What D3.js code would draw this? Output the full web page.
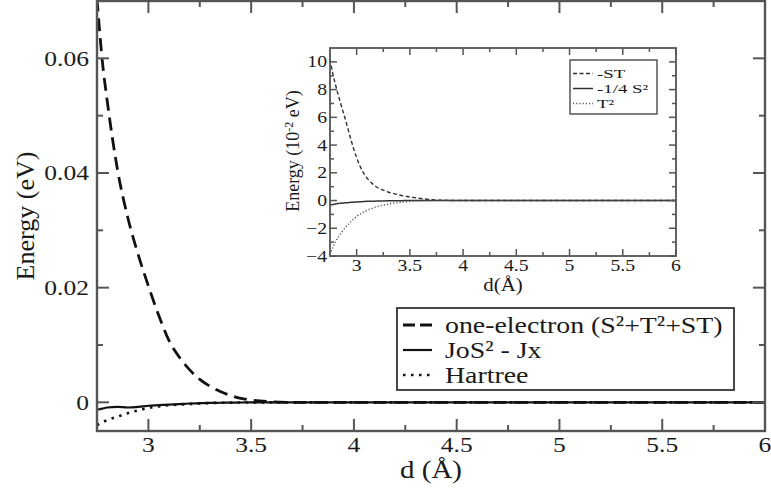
<!DOCTYPE html>
<html>
<head>
<meta charset="utf-8">
<script src="https://cdn.jsdelivr.net/npm/d3@7"></script>
<style>
  body { margin: 0; background: #fff; }
  svg text { font-family: "Liberation Serif", "Times New Roman", "DejaVu Serif", serif; fill: #1a1a1a; }
</style>
</head>
<body>
<div id="wrapper"></div>
<script>
// distances (Å), shared by every series
const dValues = [2.75, 2.775, 2.8, 2.85, 2.9, 2.95, 3.0, 3.05, 3.1, 3.15, 3.2, 3.25, 3.3,
  3.35, 3.4, 3.45, 3.5, 3.6, 3.7, 3.8, 4.0, 4.5, 5.0, 5.5, 6.0];

// main plot (eV)
const oneElectron = [0.0705, 0.0598, 0.0525, 0.0405, 0.0322, 0.0258, 0.0203, 0.0152, 0.0108,
  0.0079, 0.0057, 0.0040, 0.0028, 0.0019, 0.0012, 0.0007, 0.0004, 0.0001, 0, 0, 0, 0, 0, 0, 0];
const joS2Jx = [-0.0013, -0.0011, -0.0009, -0.0008, -0.0009, -0.0008, -0.0006, -0.0005, -0.0004,
  -0.0003, -0.0002, -0.00015, -0.0001, -0.00007, -0.00005, -0.00003, -0.00002, 0, 0, 0, 0, 0, 0, 0, 0];
const hartree = [-0.0040, -0.0035, -0.0031, -0.0025, -0.0019, -0.0014, -0.0010, -0.0007, -0.0005,
  -0.0004, -0.0003, -0.0002, -0.00012, -0.00008, -0.00005, -0.00003, -0.00002, 0, 0, 0, 0, 0, 0, 0, 0];

// inset (10^-2 eV)
const minusST = [10.2, 9.2, 8.4, 7.0, 5.7, 4.3, 3.1, 2.2, 1.6, 1.2, 0.92, 0.75, 0.6, 0.5, 0.4,
  0.32, 0.26, 0.15, 0.07, 0.02, 0, 0, 0, 0, 0];
const quarterS2 = [-0.3, -0.28, -0.25, -0.2, -0.16, -0.13, -0.1, -0.08, -0.06, -0.05, -0.04,
  -0.03, -0.02, -0.015, -0.01, -0.005, 0, 0, 0, 0, 0, 0, 0, 0, 0];
const tSquared = [-3.9, -3.4, -3.0, -2.4, -1.9, -1.5, -1.15, -0.9, -0.7, -0.55, -0.42, -0.33,
  -0.25, -0.19, -0.14, -0.1, -0.07, -0.03, -0.01, 0, 0, 0, 0, 0, 0];

// ticks
const xMajorTicks = [3, 3.5, 4, 4.5, 5, 5.5, 6];
const xMinorTicks = [3.25, 3.75, 4.25, 4.75, 5.25, 5.75];
const yMajorTicks = [0, 0.02, 0.04, 0.06];
const yMinorTicks = [0.01, 0.03, 0.05];
const insetYMajor = [-4, -2, 0, 2, 4, 6, 8, 10];
const insetYMinor = [-3, -1, 1, 3, 5, 7, 9];

const mainLabels = ["one-electron (S²+T²+ST)", "JoS² - Jx", "Hartree"];
const insetLabels = ["-ST", "-1/4 S²", "T²"];

// the original figure is a little stretched sideways
const SX = 1.16;

const dimensions = {
  width: 771,
  height: 489,
  left: 97, right: 765, top: 1, bottom: 431
};
const inset = { left: 330, right: 676, top: 48, bottom: 256 };

const svg = d3.select("#wrapper")
  .append("svg")
  .attr("width", dimensions.width)
  .attr("height", dimensions.height);

const xScale = d3.scaleLinear().domain([2.75, 6]).range([dimensions.left, dimensions.right]);
const yScale = d3.scaleLinear().domain([-0.005, 0.07]).range([dimensions.bottom, dimensions.top]);

const ixScale = d3.scaleLinear().domain([2.75, 6]).range([inset.left, inset.right]);
const iyScale = d3.scaleLinear().domain([-4, 11]).range([inset.bottom, inset.top]);

const AXIS_COLOR = "#555";

// stretched text helper
function addText(g, x, y, txt, size, anchor, sx) {
  return g.append("text")
    .attr("transform", `translate(${x},${y}) scale(${sx || SX},1)`)
    .attr("text-anchor", anchor || "start")
    .style("font-size", size + "px")
    .text(txt);
}

// inward ticks on all four sides, plus the box
function drawFrame(g, xs, ys, box, opts) {
  const tick = (vals, len, vertical) => {
    const sides = vertical
      ? [[box.left, 1], [box.right, -1]]
      : [[box.bottom, -1], [box.top, 1]];
    sides.forEach(([pos, dir]) => {
      g.append("g").selectAll("line")
        .data(vals)
        .join("line")
        .attr(vertical ? "y1" : "x1", d => (vertical ? ys(d) : xs(d)))
        .attr(vertical ? "y2" : "x2", d => (vertical ? ys(d) : xs(d)))
        .attr(vertical ? "x1" : "y1", pos)
        .attr(vertical ? "x2" : "y2", pos + dir * len)
        .attr("stroke", AXIS_COLOR)
        .attr("stroke-width", opts.tickW);
    });
  };
  tick(opts.xMajor, opts.major, false);
  tick(opts.xMinor, opts.minor, false);
  tick(opts.yMajor, opts.major, true);
  tick(opts.yMinor, opts.minor, true);

  g.append("g").selectAll("text")
    .data(opts.xMajor)
    .join("text")
    .attr("transform", d => `translate(${xs(d)},${box.bottom + opts.xLabelDy}) scale(${SX},1)`)
    .attr("text-anchor", "middle")
    .style("font-size", opts.font + "px")
    .text(opts.fmt.x);

  g.append("g").selectAll("text")
    .data(opts.yMajor)
    .join("text")
    .attr("transform", d => `translate(${box.left - opts.yLabelDx},${ys(d) + opts.font * 0.33}) scale(${SX},1)`)
    .attr("text-anchor", "end")
    .style("font-size", opts.font + "px")
    .text(opts.fmt.y);

  g.append("rect")
    .attr("x", box.left).attr("y", box.top)
    .attr("width", box.right - box.left).attr("height", box.bottom - box.top)
    .attr("fill", "none").attr("stroke", AXIS_COLOR).attr("stroke-width", opts.frameW);
}

// ---- main plot ----
svg.append("clipPath").attr("id", "mainClip")
  .append("rect")
  .attr("x", dimensions.left).attr("y", dimensions.top)
  .attr("width", dimensions.right - dimensions.left)
  .attr("height", dimensions.bottom - dimensions.top);

const mainLine = d3.line()
  .x((d, i) => xScale(dValues[i]))
  .y(d => yScale(d))
  .curve(d3.curveMonotoneX);

const mainSeries = [
  { values: oneElectron, dash: "13,7", legendDash: "12,5", width: 2.8 },
  { values: joS2Jx, dash: null, legendDash: null, width: 2.2 },
  { values: hartree, dash: "2.5,5.5", legendDash: "2.5,5.5", width: 2.6 }
];

const curves = svg.append("g").attr("clip-path", "url(#mainClip)");
curves.selectAll("path")
  .data(mainSeries.slice().reverse())
  .join("path")
  .attr("d", d => mainLine(d.values))
  .attr("fill", "none")
  .attr("stroke", "#111")
  .attr("stroke-width", d => d.width)
  .attr("stroke-dasharray", d => d.dash);

drawFrame(svg.append("g"), xScale, yScale, dimensions, {
  major: 12, minor: 6, font: 22, tickW: 2, frameW: 2.4,
  xLabelDy: 21, yLabelDx: 8,
  xMajor: xMajorTicks, xMinor: xMinorTicks, yMajor: yMajorTicks, yMinor: yMinorTicks,
  fmt: { x: d3.format(""), y: d => d === 0 ? "0" : d3.format(".2f")(d) }
});

addText(svg, 431, 478, "d (Å)", 25, "middle");

svg.append("text")
  .attr("transform", "translate(34,216) rotate(-90)")
  .attr("text-anchor", "middle")
  .style("font-size", "26px")
  .text("Energy (eV)");

// main legend
const legend = svg.append("g");
legend.append("rect")
  .attr("x", 397).attr("y", 308).attr("width", 337).attr("height", 82)
  .attr("fill", "#fff").attr("stroke", "#333").attr("stroke-width", 1.8);
legend.selectAll("line")
  .data(mainSeries)
  .join("line")
  .attr("x1", 403).attr("x2", 432)
  .attr("y1", (d, i) => 325 + i * 25).attr("y2", (d, i) => 325 + i * 25)
  .attr("stroke", "#111")
  .attr("stroke-width", d => d.width)
  .attr("stroke-dasharray", d => d.legendDash);
mainLabels.forEach((lab, i) => addText(legend, 445, 333 + i * 25, lab, 24));

// ---- inset ----
const ig = svg.append("g");
ig.append("rect")
  .attr("x", inset.left).attr("y", inset.top)
  .attr("width", inset.right - inset.left).attr("height", inset.bottom - inset.top)
  .attr("fill", "#fff");

const insetLine = d3.line()
  .x((d, i) => ixScale(dValues[i]))
  .y(d => iyScale(d))
  .curve(d3.curveMonotoneX);

const insetSeries = [
  { values: minusST, dash: "4,2.5", width: 1.4, color: "#333" },
  { values: quarterS2, dash: null, width: 1.5, color: "#333" },
  { values: tSquared, dash: "1.2,2", width: 1.4, color: "#555" }
];

ig.append("g").selectAll("path")
  .data(insetSeries)
  .join("path")
  .attr("d", d => insetLine(d.values))
  .attr("fill", "none")
  .attr("stroke", d => d.color)
  .attr("stroke-width", d => d.width)
  .attr("stroke-dasharray", d => d.dash);

drawFrame(ig.append("g"), ixScale, iyScale, inset, {
  major: 7, minor: 4, font: 17, tickW: 1.5, frameW: 1.8,
  xLabelDy: 15, yLabelDx: 3,
  xMajor: xMajorTicks, xMinor: xMinorTicks, yMajor: insetYMajor, yMinor: insetYMinor,
  fmt: { x: d3.format(""), y: d3.format("") }
});

addText(ig, 503, 291, "d(Å)", 18, "middle");

const iyLabel = ig.append("text")
  .attr("transform", "translate(299,151) rotate(-90)")
  .attr("text-anchor", "middle")
  .style("font-size", "18px");
iyLabel.append("tspan").text("Energy (10");
iyLabel.append("tspan").attr("dy", -6).style("font-size", "12px").text("-2");
iyLabel.append("tspan").attr("dy", 6).text(" eV)");

// inset legend
const il = ig.append("g");
il.append("rect")
  .attr("x", 570).attr("y", 60).attr("width", 87).attr("height", 54)
  .attr("fill", "#fff").attr("stroke", "#555").attr("stroke-width", 1.5);
il.selectAll("line")
  .data(insetSeries)
  .join("line")
  .attr("x1", 573).attr("x2", 593)
  .attr("y1", (d, i) => 73.5 + i * 15).attr("y2", (d, i) => 73.5 + i * 15)
  .attr("stroke", d => d.color)
  .attr("stroke-width", d => d.width)
  .attr("stroke-dasharray", d => d.dash);
insetLabels.forEach((lab, i) => addText(il, 597, 78 + i * 15, lab, 13, "start", 1.45));
</script>
</body>
</html>
